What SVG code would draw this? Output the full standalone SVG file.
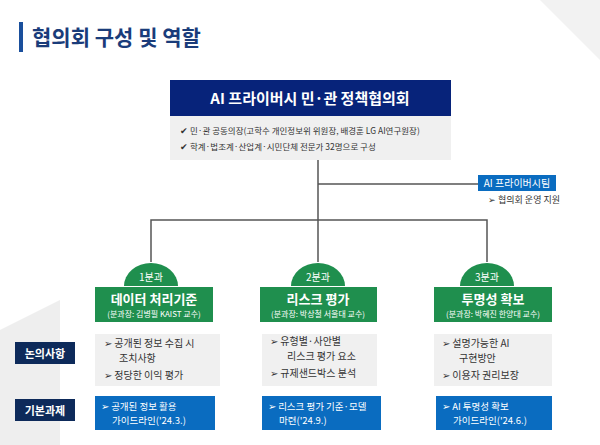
<svg xmlns="http://www.w3.org/2000/svg" width="600" height="445" viewBox="0 0 600 445">
<style>
text{font-family:"Noto Sans CJK KR","Noto Sans",sans-serif}
.w{fill:#fff}
.g{fill:#1f8f4e}
.gr{fill:#f0f0f0}
.b{fill:#0a6cc0}
.n{fill:#0d2a5a}
.ln{stroke:#555;stroke-width:1.5;fill:none}
.t{font-size:10px;fill:#333}
</style>
<polygon points="0,330 60,300 60,445 0,445" fill="#eee"/>
<polygon points="540,0 600,0 600,60" fill="#f2f2f2"/>
<rect x="19" y="22" width="4" height="30" fill="#1a4f9c"/>
<text x="32" y="45" font-size="21" font-weight="bold" fill="#1a3c7a">협의회 구성 및 역할</text>
<g id="connectors" class="ln">
<path d="M318 160V262M151 262V220H487V262M318 184H478"/>
</g>
<g id="council">
<rect x="170" y="80" width="281" height="36" fill="#07237a"/>
<text x="310" y="104" font-size="15" font-weight="bold" class="w" text-anchor="middle">AI 프라이버시 민·관 정책협의회</text>
<rect x="170" y="116" width="281" height="44" class="gr"/>
<text x="180" y="134" font-size="8.5" fill="#333">✔   민·관 공동의장(고학수 개인정보위 위원장, 배경훈 LG AI연구원장)</text>
<text x="180" y="150" font-size="8.5" fill="#333">✔   학계·법조계·산업계·시민단체 전문가 32명으로 구성</text>
</g>
<g id="team">
<rect x="478" y="175" width="78" height="16" class="b"/>
<text x="517" y="187" font-size="10" class="w" text-anchor="middle">AI 프라이버시팀</text>
<text x="488" y="203" font-size="9" fill="#333">➢ 협의회 운영 지원</text>
</g>
<g id="label1"><rect x="15" y="342" width="60" height="22" class="n"/><text x="45" y="358" font-size="11" font-weight="bold" class="w" text-anchor="middle">논의사항</text></g>
<g id="label2"><rect x="15" y="399" width="60" height="22" class="n"/><text x="45" y="415" font-size="11" font-weight="bold" class="w" text-anchor="middle">기본과제</text></g>
<g id="sub1">
<path d="M124 286A27 23 0 0 1 178 286Z" class="g"/>
<text x="151" y="281" font-size="10" class="w" text-anchor="middle">1분과</text>
<rect x="95" y="287" width="118" height="35" class="g"/>
<text x="154" y="304" font-size="13" font-weight="bold" class="w" text-anchor="middle">데이터 처리기준</text>
<text x="154" y="317" font-size="8" class="w" text-anchor="middle">(분과장: 김병필 KAIST 교수)</text>
<rect x="95" y="334" width="125" height="52" class="gr"/>
<text x="104" y="347" class="t">➢   공개된 정보 수집 시</text>
<text x="119" y="362" class="t">조치사항</text>
<text x="104" y="379" class="t">➢   정당한 이익 평가</text>
<rect x="95" y="396" width="120" height="34" class="b"/>
<text x="101" y="410" font-size="9.5" class="w">➢ 공개된 정보 활용</text>
<text x="112" y="424" font-size="9.5" class="w">가이드라인('24.3.)</text>
</g>
<g id="sub2">
<path d="M291 286A27 23 0 0 1 345 286Z" class="g"/>
<text x="318" y="281" font-size="10" class="w" text-anchor="middle">2분과</text>
<rect x="260" y="287" width="117" height="35" class="g"/>
<text x="318" y="304" font-size="13" font-weight="bold" class="w" text-anchor="middle">리스크 평가</text>
<text x="318" y="317" font-size="8" class="w" text-anchor="middle">(분과장: 박상철 서울대 교수)</text>
<rect x="262" y="334" width="115" height="52" class="gr"/>
<text x="270" y="345" class="t">➢   유형별·사안별</text>
<text x="287" y="360" class="t">리스크 평가 요소</text>
<text x="270" y="377" class="t">➢   규제샌드박스  분석</text>
<rect x="262" y="396" width="119" height="34" class="b"/>
<text x="268" y="410" font-size="9.5" class="w">➢ 리스크 평가 기준·모델</text>
<text x="279" y="424" font-size="9.5" class="w">마련('24.9.)</text>
</g>
<g id="sub3">
<path d="M460 286A27 23 0 0 1 514 286Z" class="g"/>
<text x="487" y="281" font-size="10" class="w" text-anchor="middle">3분과</text>
<rect x="434" y="287" width="118" height="35" class="g"/>
<text x="493" y="304" font-size="13" font-weight="bold" class="w" text-anchor="middle">투명성 확보</text>
<text x="493" y="317" font-size="8" class="w" text-anchor="middle">(분과장: 박혜진 한양대 교수)</text>
<rect x="434" y="334" width="118" height="52" class="gr"/>
<text x="442" y="347" class="t">➢   설명가능한 AI</text>
<text x="459" y="362" class="t">구현방안</text>
<text x="442" y="379" class="t">➢   이용자 권리보장</text>
<rect x="436" y="396" width="116" height="34" class="b"/>
<text x="442" y="410" font-size="9.5" class="w">➢ AI 투명성 확보</text>
<text x="453" y="424" font-size="9.5" class="w">가이드라인('24.6.)</text>
</g>
</svg>
